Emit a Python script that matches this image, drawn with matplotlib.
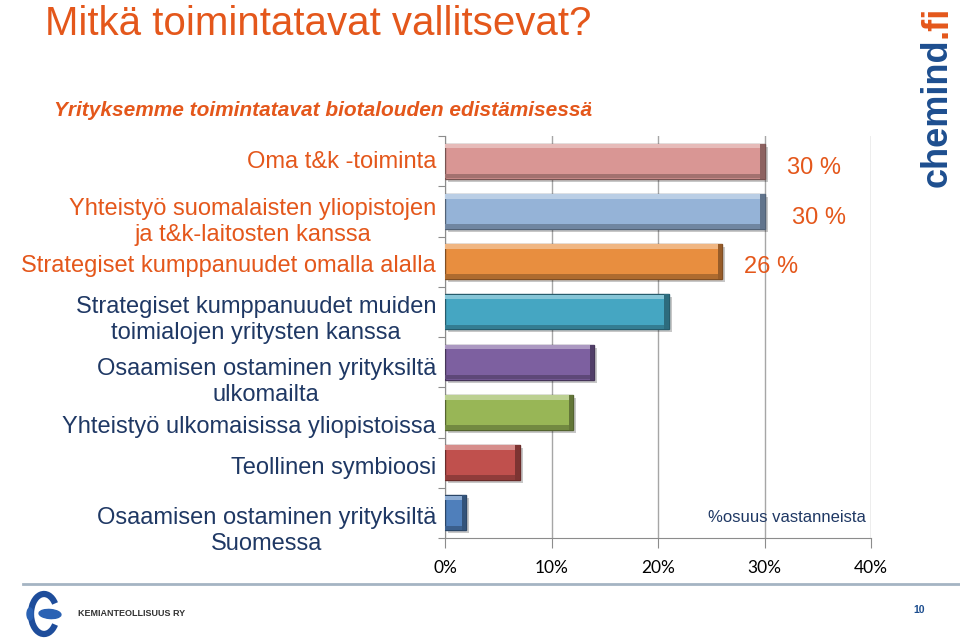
"""Yritysten toimintatavat biotalouden edistämisessä - vaakapylväskuva."""

import matplotlib

matplotlib.use("Agg")

import matplotlib.pyplot as plt
import matplotlib.transforms as mtransforms
import numpy as np
from matplotlib.patches import Arc, Ellipse

# --- data ---------------------------------------------------------------
categories = [
    "Oma t&k -toiminta",
    "Yhteistyö suomalaisten yliopistojen\nja t&k-laitosten kanssa",
    "Strategiset kumppanuudet omalla alalla",
    "Strategiset kumppanuudet muiden\ntoimialojen yritysten kanssa",
    "Osaamisen ostaminen yrityksiltä\nulkomailta",
    "Yhteistyö ulkomaisissa yliopistoissa",
    "Teollinen symbioosi",
    "Osaamisen ostaminen yrityksiltä\nSuomessa",
]
shares = [0.30, 0.30, 0.26, 0.21, 0.14, 0.12, 0.07, 0.02]
value_labels = ["30 %", "30 %", "26 %", "", "", "", "", ""]
x_ticks = [0.0, 0.1, 0.2, 0.3, 0.4]
x_tick_labels = ["0%", "10%", "20%", "30%", "40%"]

# --- styles -------------------------------------------------------------
bar_colors = ["#D99694", "#95B3D7", "#E88E3F", "#45A6C2",
              "#7D60A0", "#98B656", "#C0504D", "#4F7FBB"]
label_colors = ["#E4571B"] * 3 + ["#1F3864"] * 5
# y centres (pixels) of the category texts as laid out on the slide
label_y_px = [162, 222, 266, 320, 382, 427, 468, 531]
value_label_dx_px = [16, 20, 16]
value_label_dy_px = [5, 5, 4]
ORANGE = "#E4571B"
NAVY = "#1F3864"
W, H = 960, 642

plt.rcParams["font.family"] = ["Liberation Sans", "DejaVu Sans"]


def fx(px):
    return px / W


def fy(py):
    return 1 - py / H


def shade(color, k):
    rgb = np.array(matplotlib.colors.to_rgb(color))
    if k > 0:
        rgb = rgb + (1 - rgb) * k
    else:
        rgb = rgb * (1 + k)
    return tuple(np.clip(rgb, 0, 1))


def main() -> None:
    fig = plt.figure(figsize=(W / 100, H / 100), dpi=100)
    ax = fig.add_axes([fx(445), fy(538), fx(871) - fx(445), fy(136) - fy(538)])

    y = np.arange(len(categories))
    h = 0.7
    shadow = mtransforms.offset_copy(ax.transData, fig=fig, x=3, y=-3, units="dots")

    ax.barh(y, shares, height=h, color="black", alpha=0.22, transform=shadow, zorder=2)
    ax.barh(y, shares, height=h, color=bar_colors,
            edgecolor=[shade(c, -0.45) for c in bar_colors], linewidth=1, zorder=3)
    # bevel: light strip on top, dark strip at the bottom and at the end
    ax.barh(y - h / 2 + 0.05, shares, height=0.09,
            color=[shade(c, 0.35) for c in bar_colors], zorder=4)
    ax.barh(y + h / 2 - 0.05, shares, height=0.09,
            color=[shade(c, -0.25) for c in bar_colors], zorder=4)
    ax.barh(y, [0.004] * len(shares), left=np.array(shares) - 0.004, height=h,
            color=[shade(c, -0.35) for c in bar_colors], zorder=4)

    ax.set_xlim(0, 0.4)
    ax.set_ylim(len(categories) - 0.5, -0.5)
    ax.set_xticks(x_ticks)
    ax.set_xticklabels(x_tick_labels, fontfamily="Lato", fontsize=12.5, color="#000000")
    ax.set_yticks(np.arange(len(categories) + 1) - 0.5)
    ax.set_yticklabels([])
    ax.tick_params(axis="x", length=7, color="#8C8C8C", pad=9)
    ax.tick_params(axis="y", length=5, color="#8C8C8C")
    ax.grid(axis="x", color="#A6A6A6", linewidth=1, zorder=0)
    ax.set_axisbelow(True)
    for side in ["top", "right"]:
        ax.spines[side].set_visible(False)
    for side in ["left", "bottom"]:
        ax.spines[side].set_color("#8C8C8C")

    for yi, (v, lab) in enumerate(zip(shares, value_labels)):
        if lab:
            ax.annotate(lab, (v, yi), xytext=(value_label_dx_px[yi], -value_label_dy_px[yi]),
                        textcoords="offset points", ha="left", va="center",
                        fontsize=17, color=ORANGE)

    # category texts
    for lab, ypx, col in zip(categories, label_y_px, label_colors):
        fig.text(fx(436), fy(ypx), lab, ha="right", va="center", multialignment="center",
                 fontsize=17, color=col, linespacing=1.2)

    fig.text(fx(45), fy(24), "Mitkä toimintatavat vallitsevat?", ha="left", va="center",
             fontsize=29, color=ORANGE)
    fig.text(fx(323), fy(110), "Yrityksemme toimintatavat biotalouden edistämisessä",
             ha="center", va="center", fontsize=15, fontweight="bold", style="italic",
             color=ORANGE)
    fig.text(fx(866), fy(518), "%osuus vastanneista", ha="right", va="center",
             fontsize=12, color=NAVY)

    # chemind.fi logo
    chem = fig.text(fx(937), fy(187), "chemind", rotation=90, ha="center", va="bottom",
                    fontsize=26, fontweight="bold", color="#1D4E8F")
    fig.add_artist(plt.Annotation(".fi", xy=(0.5, 1.0), xycoords=chem, xytext=(0, 0.5),
                                  textcoords="offset points", rotation=90, ha="center",
                                  va="bottom", fontsize=26, fontweight="bold",
                                  color="#E4571B"))

    # footer
    fig.add_artist(plt.Line2D([fx(23), 1], [fy(584), fy(584)], color="#A5B4C3", linewidth=2))
    fig.add_artist(Arc((fx(44), fy(614)), 26 / W, 40 / H, theta1=55, theta2=305,
                       color="#1E4D9B", linewidth=4.5))
    fig.add_artist(Ellipse((fx(50), fy(614)), 22 / W, 9 / H, angle=-8, color="#2A62B4"))
    fig.add_artist(Ellipse((fx(30), fy(614)), 6 / W, 12 / H, color="#2A62B4"))
    fig.text(fx(78), fy(614), "KEMIANTEOLLISUUS RY", ha="left", va="center",
             fontsize=6.5, fontweight="bold", color="#333333")
    fig.text(fx(919), fy(610), "10", ha="center", va="center",
             fontsize=7.5, fontweight="bold", color="#1D4E8F")

    fig.savefig("out.png", dpi=100)
    plt.close(fig)


if __name__ == "__main__":
    main()
